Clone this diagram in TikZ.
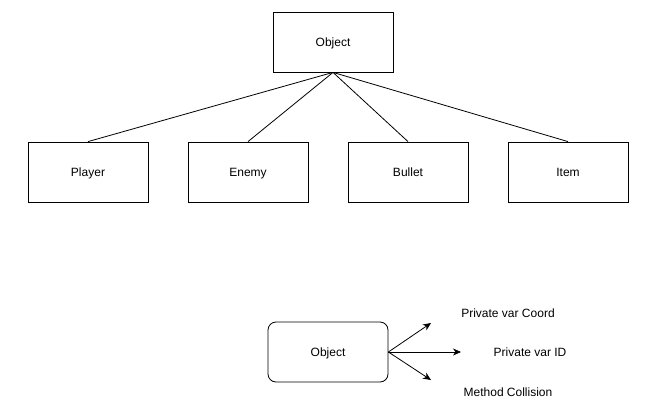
\documentclass[tikz,border=0pt]{standalone}
\usepackage{fontspec}
\setmainfont{Liberation Sans}
\usetikzlibrary{arrows.meta,positioning}

\begin{document}
\begin{tikzpicture}[x=1pt, y=-1pt, >={Stealth[length=8pt, width=7pt, inset=2.5pt]}, line width=0.8pt, font=\fontsize{12}{14}\selectfont]

%====Definizione stili=======================================================

	\tikzstyle{every node}=[inner sep=0pt, text height=9pt, text depth=1pt]
	\tikzstyle{classe}=[draw, minimum width=120pt, minimum height=60pt]
	\tikzstyle{oggetto}=[classe, rounded corners=8pt]
	\tikzstyle{campo}=[anchor=center]

	\useasboundingbox (0,0) rectangle (655,412);

%====Definizione nodi e posizione============================================

	\node[classe]	(Obj)		at (333,42)		{Object};
	\node[classe]	(Player)	at (88,172)		{Player};
	\node[classe]	(Enemy)		at (248,172)	{Enemy};
	\node[classe]	(Bullet)	at (408,172)	{Bullet};
	\node[classe]	(Item)		at (568,172)	{Item};

	\node[oggetto]	(Ist)		at (328,352)	{Object};
	\coordinate		(c1)		at (431,323);
	\coordinate		(c2)		at (461,352);
	\coordinate		(c3)		at (431,380);
	\node[campo]	(Coord)		at (508,313)	{Private var Coord};
	\node[campo]	(ID)		at (530,352)	{Private var ID};
	\node[campo]	(Coll)		at (508,392)	{Method Collision};

%====Definizione collegamenti=================================================
	\path	(Obj.south)		edge	(Player.north)
			(Obj.south)		edge	(Enemy.north)
			(Obj.south)		edge	(Bullet.north)
			(Obj.south)		edge	(Item.north);
	\path[->]	(Ist.east)	edge	(c1)
			(Ist.east)		edge	(c2)
			(Ist.east)		edge	(c3);
\end{tikzpicture}
\end{document}
